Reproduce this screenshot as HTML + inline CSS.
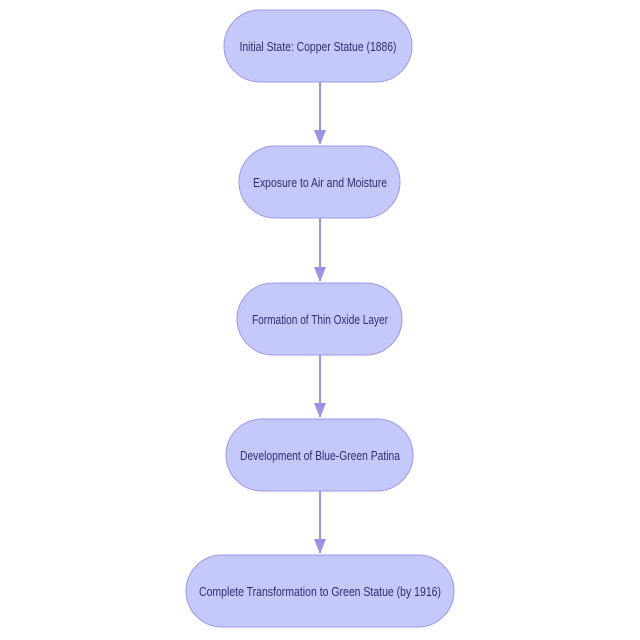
<!DOCTYPE html>
<html><head><meta charset="utf-8"><style>html,body{margin:0;padding:0;background:#fff}svg{display:block}</style></head>
<body>
<svg width="640" height="640" viewBox="0 0 640 640" xmlns="http://www.w3.org/2000/svg">
<defs><marker id="a" markerWidth="10" markerHeight="10" refX="5" refY="9" orient="auto" markerUnits="userSpaceOnUse"><path d="M0,0 L10,0 L5,10 z" fill="#9595e0"/></marker></defs>
<g stroke="#9595e0" stroke-width="2" fill="none">
<line x1="320" y1="82" x2="320" y2="144"/>
<line x1="320" y1="218" x2="320" y2="281"/>
<line x1="320" y1="355" x2="320" y2="417"/>
<line x1="320" y1="491" x2="320" y2="553"/>
</g>
<g fill="#9595e0">
<path d="M314,130 L326,130 L320,145 z"/>
<path d="M314,267 L326,267 L320,282 z"/>
<path d="M314,403 L326,403 L320,418 z"/>
<path d="M314,539 L326,539 L320,554 z"/>
</g>
<g fill="#c5c8fb" stroke="#9a9ae6" stroke-width="1">
<rect x="224" y="10" width="188" height="72" rx="36"/>
<rect x="239" y="146" width="161" height="72" rx="36"/>
<rect x="237" y="283" width="165" height="72" rx="36"/>
<rect x="226" y="419" width="187" height="72" rx="36"/>
<rect x="186" y="555" width="268" height="72" rx="36"/>
</g>
<g font-family="Liberation Sans, sans-serif" font-size="13" fill="#2e2e6a" text-anchor="middle" lengthAdjust="spacingAndGlyphs">
<text x="318" y="51" textLength="157" lengthAdjust="spacingAndGlyphs">Initial State: Copper Statue (1886)</text>
<text x="320" y="187" textLength="134" lengthAdjust="spacingAndGlyphs">Exposure to Air and Moisture</text>
<text x="320" y="324" textLength="136" lengthAdjust="spacingAndGlyphs">Formation of Thin Oxide Layer</text>
<text x="320" y="460" textLength="160" lengthAdjust="spacingAndGlyphs">Development of Blue-Green Patina</text>
<text x="320" y="596" textLength="242" lengthAdjust="spacingAndGlyphs">Complete Transformation to Green Statue (by 1916)</text>
</g>
</svg>
</body></html>
